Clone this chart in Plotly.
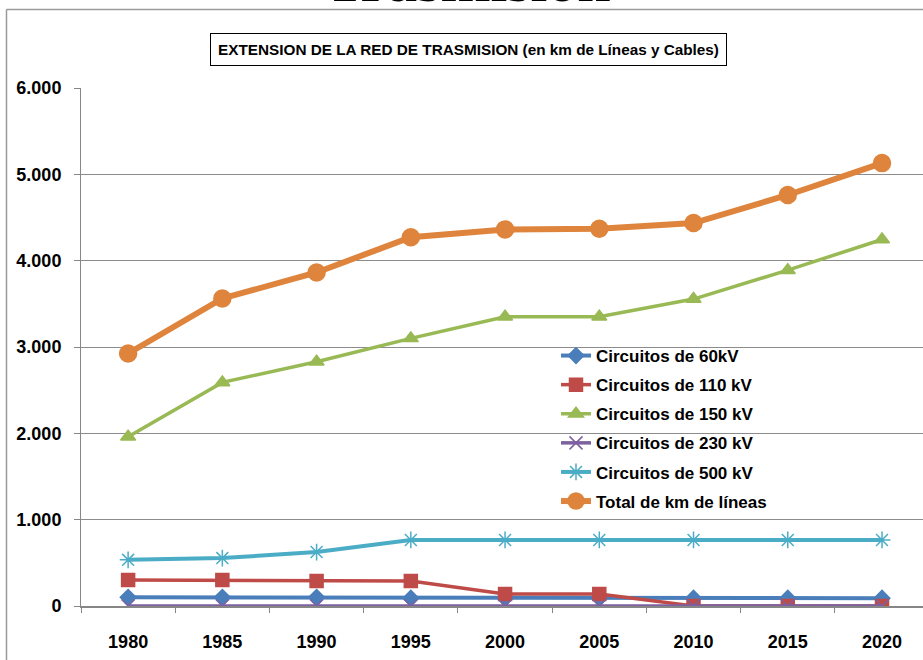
import plotly.graph_objects as go

# datos
anios = ['1980', '1985', '1990', '1995', '2000', '2005', '2010', '2015', '2020']
c60 = [100, 100, 100, 90, 90, 90, 90, 90, 90]
c110 = [300, 300, 290, 290, 140, 140, 0, 0, 0]
c150 = [1960, 2590, 2830, 3100, 3350, 3350, 3555, 3890, 4245]
c230 = [0, 0, 0, 0, 0, 0, 0, 0, 0]
c500 = [535, 555, 625, 765, 765, 765, 765, 765, 765]
total = [2925, 3562, 3863, 4272, 4362, 4370, 4436, 4761, 5130]

y_ticks = [0, 1000, 2000, 3000, 4000, 5000, 6000]
y_labels = ['0', '1.000', '2.000', '3.000', '4.000', '5.000', '6.000']

W, H = 923, 660
L, R, T, B = 81, 0, 88, 54
pw, ph = W - L - R, H - T - B


def px(x):
    return (x - L) / pw


def py(y):
    return (H - B - y) / ph


series = [
    ('Circuitos de 60kV', c60, '#4A7EBB', 'diamond', 12, 4),
    ('Circuitos de 110 kV', c110, '#BE4B48', 'square', 13, 3.5),
    ('Circuitos de 150 kV', c150, '#98B954', 'triangle-up', 13, 3.5),
    ('Circuitos de 230 kV', c230, '#7D60A0', 'x-thin-open', 13, 3.5),
    ('Circuitos de 500 kV', c500, '#4BACC6', 'asterisk-open', 14, 4),
    ('Total de km de líneas', total, '#DE843C', 'circle', 17, 6),
]

fig = go.Figure()
for i, (nombre, vals, color, simbolo, tam, ancho) in enumerate(series):
    fig.add_trace(go.Scatter(
        x=anios, y=vals, name=nombre, mode='lines+markers',
        legendgroup=str(i),
        line=dict(color=color, width=ancho),
        marker=dict(symbol=simbolo, size=tam, color=color,
                    line=dict(color=color, width=1.5)),
    ))

fig.update_layout(
    width=W, height=H,
    margin=dict(l=L, r=R, t=T, b=B),
    paper_bgcolor='white', plot_bgcolor='white',
    font=dict(family='Liberation Sans', color='black'),
    showlegend=True,
    legend=dict(x=px(556), y=py(338), xanchor='left', yanchor='top',
                bgcolor='rgba(0,0,0,0)', tracegroupgap=4,
                font=dict(size=17, family='Liberation Sans', color='black', weight='bold')),
    xaxis=dict(type='category', range=[-0.5, 8.435], showgrid=False,
               showline=True, linecolor='#868686', linewidth=1.5,
               ticks='outside', tickson='boundaries', ticklen=5, tickcolor='#868686',
               ticklabelstandoff=19,
               tickfont=dict(size=18, weight='bold', color='black')),
    yaxis=dict(range=[0, 6000], tickvals=y_ticks, ticktext=y_labels,
               showgrid=True, gridcolor='#8C8C8C', gridwidth=1, zeroline=False,
               showline=True, linecolor='#868686', linewidth=1,
               ticks='outside', ticklen=6, tickcolor='#868686',
               ticklabelstandoff=9,
               tickfont=dict(size=18, weight='bold', color='black')),
)

# marco del grafico
fig.add_shape(type='line', xref='paper', yref='paper',
              x0=px(6.5), x1=px(6.5), y0=py(9.5), y1=py(670),
              line=dict(color='#9A9A9A', width=1.5))
fig.add_shape(type='line', xref='paper', yref='paper',
              x0=px(6.5), x1=px(930), y0=py(9.5), y1=py(9.5),
              line=dict(color='#9A9A9A', width=1.5))

# titulo del grafico
fig.add_annotation(
    xref='paper', yref='paper', x=px(468.5), y=py(50),
    xanchor='center', yanchor='middle', showarrow=False,
    text='<b>EXTENSION DE LA RED DE TRASMISION (en km de Líneas y Cables)</b>',
    font=dict(size=15.3, family='Liberation Sans', color='black'),
    width=515, height=31, borderpad=0, bordercolor='black', borderwidth=1,
    bgcolor='white',
)

# texto grande recortado arriba
fig.add_annotation(
    xref='paper', yref='paper', x=px(468), y=py(16),
    xanchor='center', yanchor='bottom', showarrow=False,
    text='<b>Trasmision</b>',
    font=dict(size=60, family='Liberation Serif', color='black'),
)

fig.write_html('out.html', config={'displayModeBar': False},
               post_script="document.body.style.margin='0';")
